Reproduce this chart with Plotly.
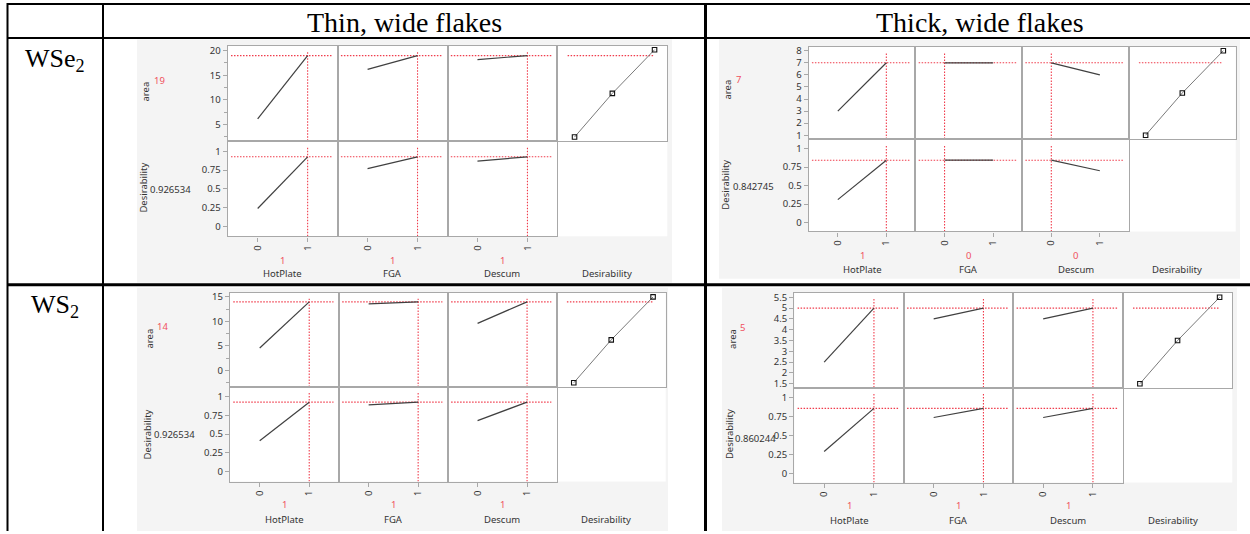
import plotly.graph_objects as go

W, H = 1250, 534

# ---------------- data ----------------
column_titles = ["Thin, wide flakes", "Thick, wide flakes"]
row_titles = ["WSe<sub>2</sub>", "WS<sub>2</sub>"]
factor_names = ["HotPlate", "FGA", "Descum"]
response_name = "area"
desirability_name = "Desirability"
factor_levels = [0, 1]
factor_tick_text = ["0", "1"]
desirability_ticks = [0, 0.25, 0.5, 0.75, 1]
desirability_tick_text = ["0", "0.25", "0.5", "0.75", "1"]
desirability_fn_x = [0.11, 0.54, 1.02]

# WSe2 - thin, wide flakes
wse2_thin_area_lo = [6.1, 16.2, 18.2]
wse2_thin_area_hi = [19.0, 19.0, 19.0]
wse2_thin_des_lo = [0.24, 0.77, 0.87]
wse2_thin_des_hi = [0.926534, 0.926534, 0.926534]
wse2_thin_settings = [1, 1, 1]
wse2_thin_area_pred = 19
wse2_thin_des_pred = 0.926534
wse2_thin_desfn_area = [2.4, 11.3, 20.2]

# WSe2 - thick, wide flakes
wse2_thick_area_lo = [3.0, 7.0, 7.0]
wse2_thick_area_hi = [7.0, 7.0, 6.0]
wse2_thick_des_lo = [0.31, 0.842745, 0.842745]
wse2_thick_des_hi = [0.842745, 0.842745, 0.70]
wse2_thick_settings = [1, 0, 0]
wse2_thick_area_pred = 7
wse2_thick_des_pred = 0.842745
wse2_thick_desfn_area = [1.0, 4.5, 8.0]

# WS2 - thin, wide flakes
ws2_thin_area_lo = [4.6, 13.6, 9.6]
ws2_thin_area_hi = [14.0, 14.0, 14.0]
ws2_thin_des_lo = [0.41, 0.89, 0.68]
ws2_thin_des_hi = [0.926534, 0.926534, 0.926534]
ws2_thin_settings = [1, 1, 1]
ws2_thin_area_pred = 14
ws2_thin_des_pred = 0.926534
ws2_thin_desfn_area = [-2.5, 6.25, 15.0]

# WS2 - thick, wide flakes
ws2_thick_area_lo = [2.5, 4.5, 4.5]
ws2_thick_area_hi = [5.0, 5.0, 5.0]
ws2_thick_des_lo = [0.29, 0.74, 0.74]
ws2_thick_des_hi = [0.860244, 0.860244, 0.860244]
ws2_thick_settings = [1, 1, 1]
ws2_thick_area_pred = 5
ws2_thick_des_pred = 0.860244
ws2_thick_desfn_area = [1.5, 3.5, 5.5]

# ---------------- layout (pixel geometry) ----------------
panels = [
    dict(area_lo=wse2_thin_area_lo, area_hi=wse2_thin_area_hi, des_lo=wse2_thin_des_lo,
         des_hi=wse2_thin_des_hi, settings=wse2_thin_settings, area_pred=wse2_thin_area_pred,
         des_pred=wse2_thin_des_pred, desfn_area=wse2_thin_desfn_area,
         box=(227.7, 667.3, 43.3, 139.3, 236.0), bg=(137, 37, 672, 283),
         area_range=[1.65, 21.0], area_dtick=5, area_minor=2.5, des_range=[-0.13, 1.14],
         area_lbl=(145.5, 90), area_val=(159.5, 78), des_lbl=(144, 186.7), des_val=(170.8, 188.3),
         lvl_y=260, name_y=274),
    dict(area_lo=wse2_thick_area_lo, area_hi=wse2_thick_area_hi, des_lo=wse2_thick_des_lo,
         des_hi=wse2_thick_des_hi, settings=wse2_thick_settings, area_pred=wse2_thick_area_pred,
         des_pred=wse2_thick_des_pred, desfn_area=wse2_thick_desfn_area,
         box=(808.7, 1235.7, 44.0, 137.5, 231.0), bg=(719, 37, 1240, 279),
         area_range=[0.69, 8.35], area_dtick=1, area_minor=None, des_range=[-0.12, 1.13],
         area_lbl=(728, 87.5), area_val=(738.7, 77.5), des_lbl=(725.7, 184), des_val=(753.3, 185.3),
         lvl_y=255, name_y=269.3),
    dict(area_lo=ws2_thin_area_lo, area_hi=ws2_thin_area_hi, des_lo=ws2_thin_des_lo,
         des_hi=ws2_thin_des_hi, settings=ws2_thin_settings, area_pred=ws2_thin_area_pred,
         des_pred=ws2_thin_des_pred, desfn_area=ws2_thin_desfn_area,
         box=(230.0, 665.7, 293.3, 388.3, 484.0), bg=(137, 288, 668, 534),
         area_range=[-3.35, 15.8], area_dtick=5, area_minor=2.5, des_range=[-0.135, 1.13],
         area_lbl=(149.3, 339), area_val=(163, 327.5), des_lbl=(147.3, 436), des_val=(174, 436.7),
         lvl_y=507, name_y=522.3),
    dict(area_lo=ws2_thick_area_lo, area_hi=ws2_thick_area_hi, des_lo=ws2_thick_des_lo,
         des_hi=ws2_thick_des_hi, settings=ws2_thick_settings, area_pred=ws2_thick_area_pred,
         des_pred=ws2_thick_des_pred, desfn_area=ws2_thick_desfn_area,
         box=(794.3, 1232.3, 293.3, 389.0, 485.0), bg=(722, 288, 1237, 534),
         area_range=[1.32, 5.7], area_dtick=0.5, area_minor=None, des_range=[-0.12, 1.135],
         area_lbl=(731.7, 340), area_val=(742.7, 328.5), des_lbl=(729, 436), des_val=(755, 440.5),
         lvl_y=508, name_y=523.3),
]

FACTOR_RANGE = [-0.6, 1.6]
DESIR_X_RANGE = [-0.085, 1.165]
AXC = "#a8a8a8"
TXT = "#333333"
RED = "#f03c4c"
REDTXT = "#f0505e"
JFONT = "Noto Sans"
JSIZE = 9.5


def px(x):
    return x / W


def py(y):
    return 1 - y / H


fig = go.Figure()
layout = dict(width=W, height=H, autosize=False, margin=dict(l=0, r=0, t=0, b=0, pad=0),
              paper_bgcolor="white", plot_bgcolor="rgba(0,0,0,0)", showlegend=False)
shapes = []
annotations = []

# ---- table lines ----
def tline(x0, y0, x1, y1, w):
    shapes.append(dict(type="line", xref="paper", yref="paper", x0=px(x0), y0=py(y0),
                       x1=px(x1), y1=py(y1), line=dict(color="black", width=w), layer="below"))


def rect(x0, y0, x1, y1, color):
    shapes.append(dict(type="rect", xref="paper", yref="paper", x0=px(x0), y0=py(y0),
                       x1=px(x1), y1=py(y1), fillcolor=color, line=dict(width=0),
                       layer="below"))


tline(7, 1, 1250, 1, 2)
tline(7, 35.5, 1250, 35.5, 2)
tline(7, 285, 1250, 285, 3)
tline(7.5, 0, 7.5, 534, 2)
tline(103, 0, 103, 534, 2)
tline(705.5, 0, 705.5, 534, 3)

# ---- table headers ----
SERIF = "Liberation Serif, Times New Roman, serif"
for t, xc in zip(column_titles, [404, 980]):
    annotations.append(dict(text=t, x=px(xc), y=py(20), xref="paper", yref="paper",
                            showarrow=False, xanchor="center", yanchor="middle",
                            font=dict(family=SERIF, size=28, color="black")))
for t, yc in zip(row_titles, [58, 306]):
    annotations.append(dict(text=t, x=px(55), y=py(yc), xref="paper", yref="paper",
                            showarrow=False, xanchor="center", yanchor="middle",
                            font=dict(family=SERIF, size=26, color="black")))


def ann(text, x, y, color=TXT, angle=0, xanchor="center"):
    annotations.append(dict(text=text, x=px(x), y=py(y), xref="paper", yref="paper",
                            showarrow=False, xanchor=xanchor, yanchor="middle", textangle=angle,
                            font=dict(family=JFONT, size=JSIZE, color=color)))


def red_line(xs, ys, xn, yn):
    fig.add_trace(go.Scatter(x=xs, y=ys, xaxis=xn, yaxis=yn, mode="lines", hoverinfo="skip",
                             line=dict(color=RED, width=1.1, dash="1.5px,1.5px")))


for p, P in enumerate(panels):
    L, R, T, M, B = P["box"]
    rect(*P["bg"], "#f4f4f4")
    rect(L, T, R, B, "white")
    cw = (R - L) / 4
    for r in range(2):
        yr = P["area_range"] if r == 0 else P["des_range"]
        top, bot = (T, M) if r == 0 else (M, B)
        for c in range(4):
            idx = p * 8 + r * 4 + c + 1
            xk = "xaxis" if idx == 1 else f"xaxis{idx}"
            yk = "yaxis" if idx == 1 else f"yaxis{idx}"
            xn = "x" if idx == 1 else f"x{idx}"
            yn = "y" if idx == 1 else f"y{idx}"
            x0 = L + c * cw
            x1 = x0 + cw
            xr = FACTOR_RANGE if c < 3 else DESIR_X_RANGE
            xa = dict(domain=[px(x0), px(x1)], anchor=yn, range=xr, showgrid=False,
                      zeroline=False, showline=True, mirror=True, linecolor=AXC, linewidth=1.4,
                      fixedrange=True)
            if r == 1:
                xa.update(ticks="outside", ticklen=4, tickwidth=1, tickcolor=AXC,
                          tickangle=-90, tickfont=dict(family=JFONT, size=JSIZE, color=TXT),
                          tickmode="array",
                          tickvals=factor_levels if c < 3 else desirability_ticks,
                          ticktext=factor_tick_text if c < 3 else desirability_tick_text)
            else:
                xa.update(showticklabels=False, ticks="")
            ya = dict(domain=[py(bot), py(top)], anchor=xn, range=yr, showgrid=False,
                      zeroline=False, showline=True, mirror=True, linecolor=AXC, linewidth=1.4,
                      fixedrange=True)
            if c == 0:
                ya.update(ticks="outside", ticklen=4, tickwidth=1, tickcolor=AXC,
                          tickfont=dict(family=JFONT, size=JSIZE, color=TXT))
                if r == 0:
                    ya.update(tickmode="linear", tick0=0, dtick=P["area_dtick"])
                    if P["area_minor"]:
                        ya["minor"] = dict(dtick=P["area_minor"], ticks="outside", ticklen=3,
                                           tickcolor=AXC, tickwidth=1)
                else:
                    ya.update(tickmode="array", tickvals=desirability_ticks,
                              ticktext=desirability_tick_text)
            else:
                ya.update(showticklabels=False, ticks="")
            layout[xk] = xa
            layout[yk] = ya

            span_x = xr[1] - xr[0]
            span_y = yr[1] - yr[0]
            if c < 3:
                lo = P["area_lo"][c] if r == 0 else P["des_lo"][c]
                hi = P["area_hi"][c] if r == 0 else P["des_hi"][c]
                pred = P["area_pred"] if r == 0 else P["des_pred"]
                s = P["settings"][c]
                red_line([s, s], [yr[0], yr[0] + 0.94 * span_y], xn, yn)
                red_line([xr[0] + 0.03 * span_x, xr[0] + 0.95 * span_x], [pred, pred], xn, yn)
                fig.add_trace(go.Scatter(x=factor_levels, y=[lo, hi], xaxis=xn, yaxis=yn,
                                         mode="lines", hoverinfo="skip",
                                         line=dict(color="#404040", width=1.2)))
            elif r == 0:
                red_line([xr[0] + 0.093 * span_x, xr[0] + 0.88 * span_x],
                         [P["area_pred"], P["area_pred"]], xn, yn)
                fig.add_trace(go.Scatter(x=desirability_fn_x, y=P["desfn_area"], xaxis=xn,
                                         yaxis=yn, mode="lines+markers", hoverinfo="skip",
                                         line=dict(color="#7a7a7a", width=1),
                                         marker=dict(symbol="square-open", size=4.5,
                                                     color="#111111",
                                                     line=dict(width=1.1, color="#111111"))))
            if r == 1:
                cx = (x0 + x1) / 2
                if c < 3:
                    ann(str(P["settings"][c]), cx, P["lvl_y"], color=REDTXT)
                    ann(factor_names[c], cx, P["name_y"])
                else:
                    ann(desirability_name, cx - 5, P["name_y"])

    ann(response_name, *P["area_lbl"], angle=-90)
    ann(str(P["area_pred"]), *P["area_val"], color=REDTXT)
    ann(desirability_name, *P["des_lbl"], angle=-90)
    ann(f"{P['des_pred']:.6f}", *P["des_val"])

layout["shapes"] = shapes
layout["annotations"] = annotations
fig.update_layout(**layout)
fig.write_html("out.html", config={"displayModeBar": False})
